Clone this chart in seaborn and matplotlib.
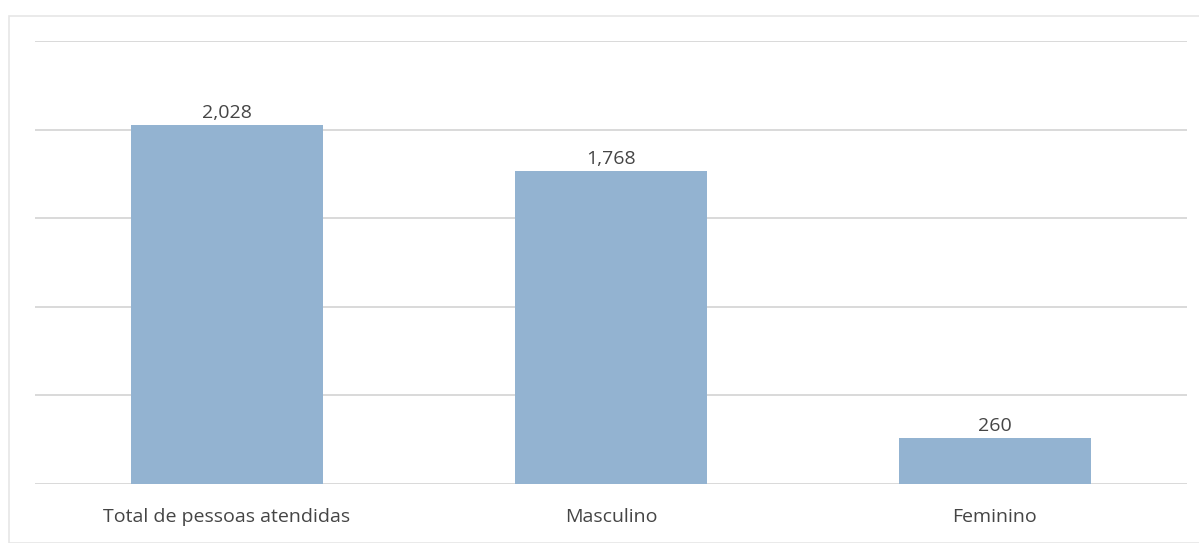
import matplotlib
matplotlib.use("Agg")
import matplotlib.pyplot as plt
from matplotlib.patches import Rectangle
import seaborn as sns
import pandas as pd

categories = ["Total de pessoas atendidas", "Masculino", "Feminino"]
values = [2028, 1768, 260]
value_labels = ["2,028", "1,768", "260"]
y_ticks = [0, 500, 1000, 1500, 2000, 2500]

sns.set_theme(style="white")
plt.rcParams["font.family"] = ["Open Sans", "DejaVu Sans"]

df = pd.DataFrame({"categoria": categories, "pessoas": values})

fig = plt.figure(figsize=(11.99, 5.43), dpi=100)
ax = fig.add_axes([35 / 1199, 59 / 543, 1152 / 1199, (484 - 41) / 543])

sns.barplot(data=df, x="categoria", y="pessoas", color="#93b3d1",
            saturation=1, width=0.5, linewidth=0, ax=ax, zorder=3)

ax.set_ylim(0, 2500)
ax.set_xlim(-0.5, 2.5)
ax.set_yticks(y_ticks)
ax.yaxis.grid(True, color="#d9d9d9", linewidth=1.4, zorder=0)
ax.set_yticklabels([])
ax.tick_params(axis="y", length=0)
ax.tick_params(axis="x", length=0, pad=17, labelsize=14, labelcolor="#454545")
ax.set_xlabel("")
ax.set_ylabel("")
for s in ax.spines.values():
    s.set_visible(False)

for patch, lab in zip(ax.patches, value_labels):
    ax.annotate(lab, (patch.get_x() + patch.get_width() / 2, patch.get_height()),
                xytext=(0, 2), textcoords="offset points", ha="center", va="bottom",
                fontsize=14, color="#454545")

# light frame around the chart area
fig.patches.append(Rectangle((9 / 1199, 0), 1.0, 1 - 16 / 543, transform=fig.transFigure,
                             fill=False, edgecolor="#e6e6e6", linewidth=1.2))

fig.savefig("out.png", dpi=100, facecolor="white")
